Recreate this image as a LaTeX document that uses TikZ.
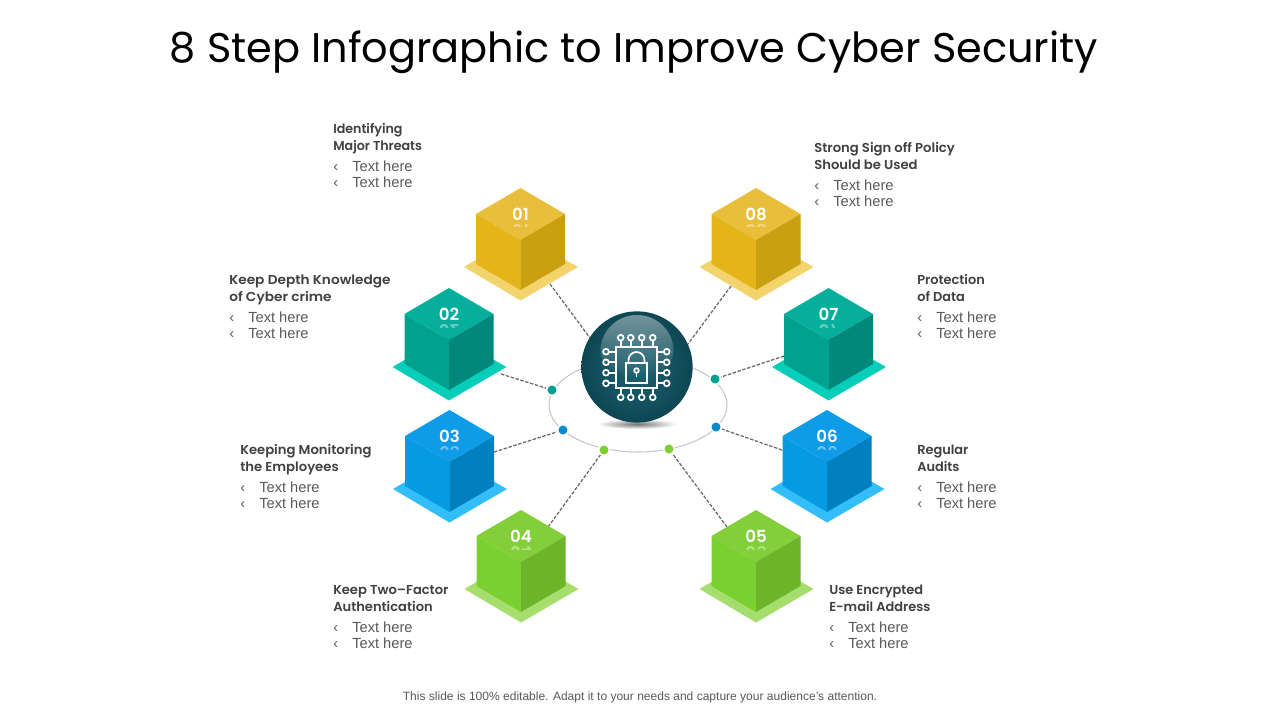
\documentclass[tikz,border=0pt]{standalone}
\usepackage{fontspec}
\setmainfont{Liberation Sans}
\newfontfamily\headfont[BoldFont={Poppins SemiBold}]{Poppins}
\usetikzlibrary{fadings,shadings}
\definecolor{ytop}{HTML}{E8BE3A}\definecolor{yleft}{HTML}{E5B418}\definecolor{yright}{HTML}{C9A012}\definecolor{ybase}{HTML}{F3D36B}
\definecolor{ttop}{HTML}{06AF9B}\definecolor{tleft}{HTML}{00A18F}\definecolor{tright}{HTML}{00897A}\definecolor{tbase}{HTML}{08CDB8}
\definecolor{btop}{HTML}{0E9CE8}\definecolor{bleft}{HTML}{059BE2}\definecolor{bright}{HTML}{0080BF}\definecolor{bbase}{HTML}{33BDFB}
\definecolor{gtop}{HTML}{83CF3A}\definecolor{gleft}{HTML}{7ACF31}\definecolor{gright}{HTML}{6CB52A}\definecolor{gbase}{HTML}{A5DE6C}
\definecolor{headc}{HTML}{404040}\definecolor{bodyc}{HTML}{5A5A5A}
\definecolor{balldark}{HTML}{0E4653}\definecolor{ballmid}{HTML}{1E6472}
\tikzset{
  x=0.75pt,y=-0.75pt,
  link/.style={draw=black!58,dash pattern=on 2.6pt off 1.2pt,line width=0.95pt},
  dotglow/.style={circle,fill=white,minimum size=9pt,inner sep=0pt},
  chip/.style={draw=white,line width=1.3pt,fill=none},
  heading/.style={anchor=base west,inner sep=0pt,font=\headfont\bfseries\fontsize{9.7}{11}\selectfont,text=headc},
  bodytxt/.style={anchor=base west,inner sep=0pt,font=\fontsize{11}{12}\selectfont,text=bodyc},
  numtxt/.style={inner sep=0pt,font=\headfont\bfseries\fontsize{12.5}{14}\selectfont,text=white},
}
\newcommand{\cubeshape}[5]{% name, x, y, colour prefix, number
  \begin{scope}[shift={(#2,#3)}]
    \fill[#4base] (-56.5,79) -- (0,46) -- (57.5,79) -- (0,112.5) -- cycle;
    \fill[#4top] (0,0) -- (44.5,26) -- (0,52) -- (-44.5,26) -- cycle;
    \fill[#4left] (-44.5,26) -- (0,52) -- (0,102) -- (-44.5,76) -- cycle;
    \fill[#4right] (44.5,26) -- (0,52) -- (0,102) -- (44.5,76) -- cycle;
    \begin{scope}
      \clip (-20,34.5) rectangle (20,39);
      \node[numtxt,opacity=.4,yscale=-1] (#1r) at (0,43) {#5};
    \end{scope}
    \node[numtxt] (#1) at (0,26.5) {#5};
  \end{scope}}
\newcommand{\infotext}[6]{% name,x,y,l1,l2,heading xscale
  \node[heading,xscale=#6] (#1a) at (#2,#3.5) {#4};
  \node[heading,xscale=#6] (#1b) at (#2,#3.5+17) {#5};
  \node[bodytxt] (#1c) at (#2,#3.5+38) {‹};
  \node[bodytxt] (#1d) at (#2+19,#3.5+38) {Text here};
  \node[bodytxt] (#1e) at (#2,#3.5+54) {‹};
  \node[bodytxt] (#1f) at (#2+19,#3.5+54) {Text here};}
\begin{document}
\begin{tikzpicture}
\useasboundingbox (0,0) rectangle (1280,720);
\fill[white] (0,0) rectangle (1280,720);
\node[inner sep=0pt,anchor=base,font=\headfont\fontsize{31.1}{38}\selectfont,text=black] (title) at (634,63) {8 Step Infographic to Improve Cyber Security};
\node[inner sep=0pt,anchor=base,font=\fontsize{9.02}{11}\selectfont,text=bodyc] (foot) at (640,700) {This slide is 100\% editable. Adapt it to your needs and capture your audience's attention.};
% ring
\draw[draw=black!22,line width=0.8pt] (638,405) ellipse [x radius=89,y radius=47];
% anchors on cube bases and hub
\coordinate (c1) at (550,284);\coordinate (c2) at (501,374);\coordinate (c3) at (494,452);\coordinate (c4) at (548,527);
\coordinate (c5) at (727,527);\coordinate (c6) at (782,450);\coordinate (c7) at (784,356);\coordinate (c8) at (731,286);
\coordinate (h1) at (590,338);\coordinate (h8) at (688,344);
% dots
\node[dotglow] (d2) at (552,390) {};\node[dotglow] (d3) at (563,430) {};\node[dotglow] (d4) at (604,450) {};\node[dotglow] (d5) at (669,449) {};
\node[dotglow] (d6) at (716,427) {};\node[dotglow] (d7) at (715,379) {};
\draw[link] (c1) -- (h1);
\draw[link] (c8) -- (h8);
\draw[link] (c2) -- (d2);\draw[link] (c3) -- (d3);\draw[link] (c4) -- (d4);
\draw[link] (c5) -- (d5);\draw[link] (c6) -- (d6);\draw[link] (c7) -- (d7);
\fill[tleft] (d2) circle (4.5);\fill[tleft] (d7) circle (4.5);
\fill[bleft!90!black] (d3) circle (4.5);\fill[bleft!90!black] (d6) circle (4.5);
\fill[gleft] (d4) circle (4.5);\fill[gleft] (d5) circle (4.5);
% shadow
\shade[inner color=black!55,outer color=white] (637,424) ellipse [x radius=40,y radius=5];
% hub
\node[circle,minimum size=83.5pt,inner sep=0pt,inner color=ballmid,outer color=balldark] (hub) at (637,367) {};
\fill[white,opacity=.42,path fading=south] (600.5,351) arc[start angle=180,end angle=360,x radius=36.5,y radius=36] arc[start angle=0,end angle=180,x radius=36.5,y radius=26] -- cycle;
% chip icon
\draw[chip] (616,347) rectangle (657,388);
\foreach \px in {620.7,630.7,641.7,652.7}{
  \draw[chip] (\px,340.6) -- (\px,347);
  \draw[chip] (\px,337.7) circle (2.9);
  \draw[chip] (\px,388) -- (\px,394.4);
  \draw[chip] (\px,397.3) circle (2.9);}
\foreach \py in {351.7,362.3,372.7,383.3}{
  \draw[chip] (608.9,\py) -- (616,\py);
  \draw[chip] (606,\py) circle (2.9);
  \draw[chip] (657,\py) -- (663.8,\py);
  \draw[chip] (666.7,\py) circle (2.9);}
\draw[chip] (625.7,363.3) rectangle (647.3,383.3);
\draw[chip] (628.5,363.3) -- (628.5,360) arc[start angle=180,end angle=360,radius=8] -- (644.5,363.3);
\draw[chip] (636.5,370.5) circle (2.3);
\draw[chip] (636.5,372.8) -- (636.5,377);
% cubes
\cubeshape{n1}{520.5}{188}{y}{01}
\cubeshape{n2}{449}{288}{t}{02}
\cubeshape{n3}{449.5}{410}{b}{03}
\cubeshape{n4}{521}{510}{g}{04}
\cubeshape{n5}{756}{510}{g}{05}
\cubeshape{n6}{827}{410}{b}{06}
\cubeshape{n7}{828.5}{288}{t}{07}
\cubeshape{n8}{756}{188}{y}{08}
% labels
\infotext{a}{333}{133}{Identifying}{Major Threats}{.98}
\infotext{b}{229}{284}{Keep Depth Knowledge}{of Cyber crime}{1.058}
\infotext{c}{240}{454}{Keeping Monitoring}{the Employees}{1.02}
\infotext{d}{333}{594}{Keep Two–Factor}{Authentication}{1.01}
\infotext{e}{829}{594}{Use Encrypted}{E-mail Address}{1}
\infotext{f}{917}{454}{Regular}{Audits}{1}
\infotext{g}{917}{284}{Protection}{of Data}{1}
\infotext{h}{814}{152}{Strong Sign off Policy}{Should be Used}{1.02}
\end{tikzpicture}
\end{document}
